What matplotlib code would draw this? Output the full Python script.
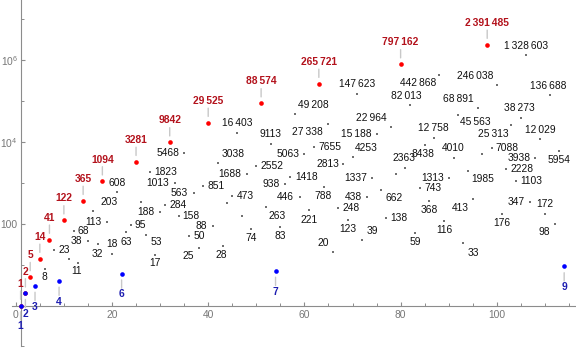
import matplotlib
matplotlib.use('Agg')
import matplotlib.pyplot as plt
from matplotlib.ticker import NullFormatter

plt.rcParams['font.family'] = ['Liberation Sans', 'DejaVu Sans']

# red series (3^k + 1) / 2
red_n = [1, 2, 3, 5, 7, 10, 14, 18, 25, 32, 40, 51, 63, 80, 98]
red_v = [1, 2, 5, 14, 41, 122, 365, 1094, 3281, 9842, 29525, 88574,
         265721, 797162, 2391485]

# blue series
blue_n = [1, 2, 4, 9, 22, 54, 114]
blue_v = [1, 2, 3, 4, 6, 7, 9]

# the remaining terms
black_n = [6, 8, 11, 12, 13, 15, 16, 17, 19, 20, 21, 23, 24, 26, 27, 28, 29,
           30, 31, 33, 34, 35, 36, 37, 38, 39, 41, 42, 43, 44, 45, 46, 47, 48,
           49, 50, 52, 53, 55, 56, 57, 58, 59, 60, 61, 62, 64, 65, 66, 67, 68,
           69, 70, 71, 72, 73, 74, 75, 76, 77, 78, 79, 81, 82, 83, 84, 85, 86,
           87, 88, 89, 90, 91, 92, 93, 94, 95, 96, 97, 99, 100, 101, 102, 103,
           104, 105, 106, 107, 108, 109, 110, 111, 112, 113]
black_v = [8, 23, 14, 68, 11, 38, 203, 32, 113, 18, 608, 63, 95, 338, 53, 1823,
           17, 188, 284, 1013, 158, 5468, 50, 563, 25, 851, 88, 3038, 28, 326,
           473, 16403, 155, 1688, 74, 2552, 263, 9113, 83, 938, 1418, 49208,
           446, 5063, 221, 7655, 788, 27338, 20, 248, 2813, 123, 4253, 147623,
           39, 438, 1337, 15188, 662, 138, 22964, 1600, 2363, 82013, 59, 743,
           8438, 368, 12758, 442868, 116, 1313, 4010, 45563, 33, 1985, 413,
           68891, 4980, 7088, 246038, 176, 2228, 25313, 1103, 38273, 1328603,
           347, 3938, 12029, 172, 136688, 98, 5954]

# label position relative to its point, pixels (right, down); None = no label
black_off = [(0, 8.8), (9.8, 0), None, (10, 0), (-1.7, 8.3), (-11.6, 0),
             (16.3, -9), (0, 10), (-13.4, 0), (0, -10), (0, -9), (0, 9.8),
             (9.5, 0), None, (10.3, 7.5), (15.5, 0), (0, 8.3), (-14.3, 0),
             (12.7, 0), (-16.7, 0), (11.7, 0), (-15.7, 0), (10.7, 0),
             (-14.3, 0), (-10.4, 7.5), (12.2, 0), (-11.3, 0), (15.3, -9.4),
             (-1, 9), None, (13, 0), (0, -9.7), None, (-17, 0), (0, 8.8),
             (15.7, 0), (11.7, 9), (0, -9.4), (0, 8.6), (-14.3, 0), (16.3, 0),
             (18.3, -8.7), (-14, 0), (-16.7, 0), (0, 10), (16.3, 0), (-1, 9),
             (-20.9, 8.3), (-10, -9.2), (13.2, 0), (-15.4, 0), (0, 9),
             (14, -9.4), (0, -9.7), (10, -9.4), (-14, 0), (-16.5, 0),
             (-19.9, 0), (13.2, 8.2), (13, 0), (-19.3, -9.6), None, (-1, -10),
             (-3.6, -8.7), (0, 9.2), (13, 0), (-1.7, 8.6), (0, 9.3),
             (-0.7, -9.4), (-20.7, 8.2), (0, 8.6), (-16.5, 0), (0, -10),
             (17.4, 7.3), (10, 9.2), (15, 8.3), (-12.7, 9), (-19.4, -9), None,
             (15.3, 0), (-21.7, -9.3), (0, 9.8), (15.7, 0), (-18.4, 8.6),
             (15.7, 0), (-1, -9.7), (0, -9), (-14, 0), (-16.3, 0), (0, -8.8),
             (0, -10.4), (-1.7, -9.3), (-10, 8), (0, 8.8)]

x_ticks = [0, 20, 40, 60, 80, 100]


def fmt(v):
    s = str(v)
    if len(s) < 5:
        return s
    groups = []
    while s:
        groups.insert(0, s[-3:])
        s = s[:-3]
    return '\u2009'.join(groups)


axis_gray = '#8c8c8c'
fs = 7.4

fig = plt.figure(figsize=(5.76, 3.51), dpi=100)
ax = fig.add_axes([0, 0, 1, 1])
ax.set_yscale('log')
ax.set_xlim(-3.28, 116.46)
ax.set_ylim(10 ** -1.112, 10 ** 7.469)

for s in ['top', 'right']:
    ax.spines[s].set_visible(False)
ax.spines['left'].set_position(('data', 1))
ax.spines['bottom'].set_position(('data', 1))
ax.spines['bottom'].set_bounds(-0.85, 116.46)
ax.spines['left'].set_bounds(0.1, 10 ** 7.469)
for s in ['left', 'bottom']:
    ax.spines[s].set_color(axis_gray)
    ax.spines[s].set_linewidth(0.8)

ax.set_xticks(x_ticks, labels=[str(t) for t in x_ticks])
ax.set_xticks([t for t in range(5, 116, 5) if t % 20], minor=True)
ax.set_yticks([1, 100, 1e4, 1e6],
              labels=['', '100', r'$\mathregular{10^{4}}$', r'$\mathregular{10^{6}}$'])
ax.set_yticks([0.1, 10, 1000, 1e5, 1e7], minor=True)
ax.yaxis.set_minor_formatter(NullFormatter())
ax.tick_params(which='major', direction='in', length=3, width=0.8,
               color=axis_gray, labelcolor='#777777', labelsize=fs)
ax.tick_params(which='minor', direction='in', length=1.9, width=0.7,
               color=axis_gray)
ax.tick_params(axis='x', pad=3.2)
ax.tick_params(axis='y', pad=2)

# points
ax.scatter(black_n, black_v, marker='s', s=2.2, color='#707070',
           linewidths=0, zorder=3)
ax.scatter(red_n, red_v, s=11, color='#ff0000', linewidths=0, zorder=4)
ax.scatter(blue_n, blue_v, s=11, color='#0000ff', linewidths=0, zorder=5)

line_kw = dict(arrowstyle='-', color='#c8c8c8', lw=1, shrinkA=0, shrinkB=4.5)

for n, v in zip(red_n, red_v):
    ax.annotate('', xy=(n, v), xytext=(0, 14.5), textcoords='offset pixels',
                arrowprops=line_kw)
    ax.annotate(fmt(v), xy=(n, v), xytext=(0, 21.7),
                textcoords='offset pixels', ha='center', va='center',
                fontsize=fs, fontweight='bold', color='#b3121c', zorder=6)

for n, v in zip(blue_n, blue_v):
    ax.annotate('', xy=(n, v), xytext=(0, -14.5), textcoords='offset pixels',
                arrowprops=line_kw)
    ax.annotate(fmt(v), xy=(n, v), xytext=(0, -20.7),
                textcoords='offset pixels', ha='center', va='center',
                fontsize=fs, fontweight='bold', color='#1c1cb0', zorder=6)

for n, v, off in zip(black_n, black_v, black_off):
    if off is None:
        continue
    ax.annotate(fmt(v), xy=(n, v), xytext=(off[0], -off[1]),
                textcoords='offset pixels', ha='center', va='center',
                fontsize=fs, color='#111111', zorder=6)

fig.savefig('out.png', dpi=100)
